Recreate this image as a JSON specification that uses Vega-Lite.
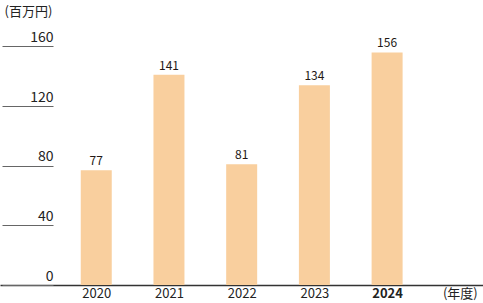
{
  "$schema": "https://vega.github.io/schema/vega-lite/v6.json",
  "width": 483,
  "height": 240,
  "autosize": {"type": "none"},
  "padding": {"left": 0, "top": 45, "right": 0, "bottom": 18},
  "data": {"values": [
    {"year": 2020, "value": 77},
    {"year": 2021, "value": 141},
    {"year": 2022, "value": 81},
    {"year": 2023, "value": 134},
    {"year": 2024, "value": 156}
  ]},
  "encoding": {
    "x": {"field": "year", "type": "quantitative",
      "scale": {"domain": [2018.745, 2025.25], "nice": false, "zero": false},
      "axis": {"values": [2020, 2021, 2022, 2023, 2024, 2025],
        "labelExpr": "datum.value == 2025 ? '(年度)' : '' + datum.value",
        "title": null, "ticks": false, "grid": false,
        "domainColor": "#333333", "domainWidth": 1.5,
        "labelFont": "Noto Sans CJK JP", "labelFontSize": 13, "labelColor": "#222222",
        "labelPadding": 2, "labelFlush": false, "labelOverlap": false,
        "labelFontWeight": {"condition": {"test": "datum.value == 2024", "value": "bold"}, "value": "normal"}}},
    "y": {"field": "value", "type": "quantitative",
      "scale": {"domain": [0, 161], "nice": false},
      "axis": {"values": [0, 40, 80, 120, 160], "offset": -53, "domain": false, "grid": false,
        "tickSize": 51, "tickColor": "#666666", "tickWidth": 1,
        "labelAlign": "right", "labelBaseline": "alphabetic", "labelPadding": -51, "labelOffset": -5,
        "labelFont": "Noto Sans CJK JP", "labelFontSize": 14, "labelColor": "#222222",
        "title": "(百万円)", "titleAngle": 0, "titleAlign": "left", "titleBaseline": "top",
        "titleX": -49, "titleY": -40, "titleFont": "Noto Sans CJK JP", "titleFontSize": 13,
        "titleFontWeight": "normal", "titleColor": "#222222"}}
  },
  "layer": [
    {"mark": {"type": "bar", "size": 31, "color": "#F9CF9E"}},
    {"mark": {"type": "text", "baseline": "bottom", "dy": -2, "fontSize": 12, "font": "Noto Sans CJK JP", "color": "#231815"},
     "encoding": {"text": {"field": "value", "type": "quantitative"}}}
  ],
  "config": {"view": {"stroke": null}}
}
